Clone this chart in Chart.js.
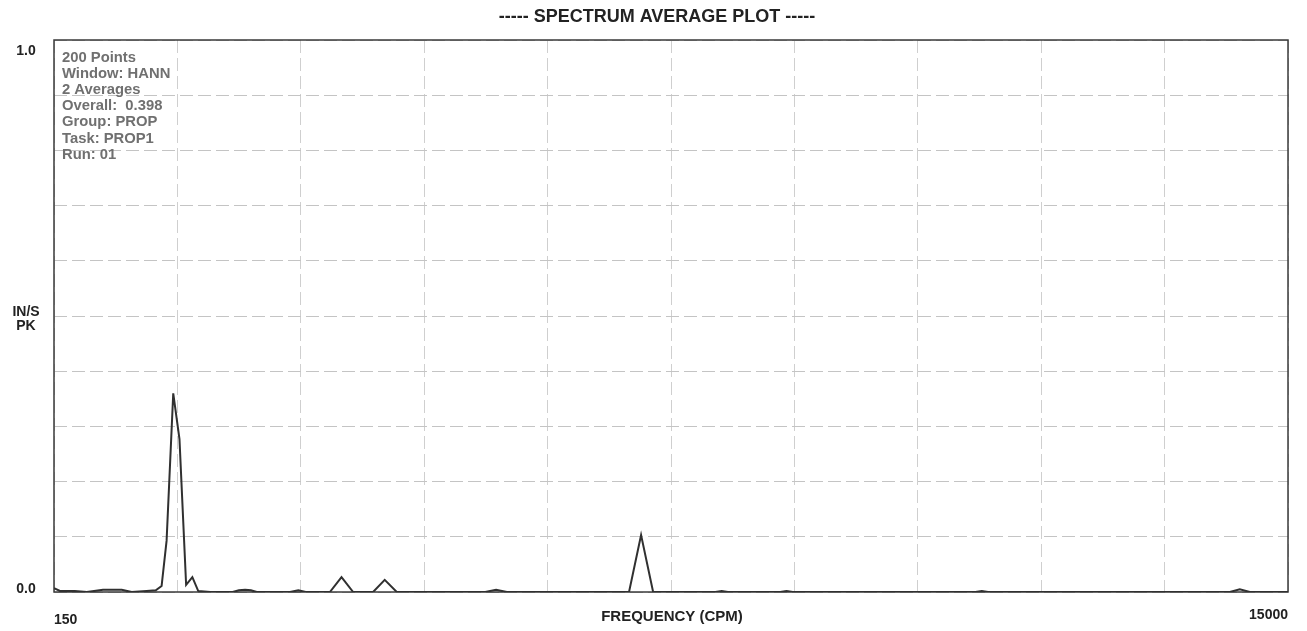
<!DOCTYPE html>
<html lang="en">
<head>
  <meta charset="UTF-8">
  <title>Spectrum Average Plot</title>
  <script src="https://cdn.jsdelivr.net/npm/chart.js"></script>
  <style>
    html, body { margin: 0; padding: 0; background: #ffffff; }
    #wrap { width: 1307px; height: 631px; }
  </style>
</head>
<body>
  <div id="wrap"><canvas id="spectrum" width="1307" height="631"></canvas></div>

  <script>
    // spectrum points (frequency in CPM, amplitude in IN/S PK)
    const freqCpm = [150, 222, 400, 545, 740, 965, 1085, 1265, 1375, 1445, 1505, 1585, 1660, 1740, 1815, 1885,
      2030, 2300, 2375, 2450, 2520, 2590, 2990, 3090, 3180, 3470, 3610, 3750, 3990, 4130, 4275,
      5340, 5470, 5600, 7070, 7215, 7360, 8110, 8185, 8260, 8890, 8965, 9040, 11240, 11315, 11390,
      14300, 14420, 14540, 15000];
    const ampInS = [0.007, 0.002, 0.002, 0.0, 0.004, 0.004, 0.0, 0.002, 0.003, 0.011, 0.093, 0.36, 0.277, 0.013, 0.027, 0.002,
      0.0, 0.0, 0.003, 0.004, 0.003, 0.0, 0.0, 0.003, 0.0, 0.0, 0.027, 0.0, 0.0, 0.022, 0.0,
      0.0, 0.004, 0.0, 0.0, 0.103, 0.0, 0.0, 0.002, 0.0, 0.0, 0.002, 0.0, 0.0, 0.002, 0.0,
      0.0, 0.005, 0.0, 0.0];

    // grid divisions (10 on each axis)
    const xGrid = [150, 1635, 3120, 4605, 6090, 7575, 9060, 10545, 12030, 13515, 15000];
    const yGrid = [0, 0.1, 0.2, 0.3, 0.4, 0.5, 0.6, 0.7, 0.8, 0.9, 1.0];

    const titleText = '----- SPECTRUM AVERAGE PLOT -----';
    const xLabels = ['150', '15000'];
    const yLabels = ['1.0', '0.0'];
    const yUnits = ['IN/S', 'PK'];
    const xTitle = 'FREQUENCY (CPM)';
    const infoLines = ['200 Points', 'Window: HANN', '2 Averages', 'Overall:  0.398', 'Group: PROP', 'Task: PROP1', 'Run: 01'];

    const FONT = "'Liberation Sans', Arial, sans-serif";

    const points = freqCpm.map((f, i) => ({ x: f, y: ampInS[i] }));

    // frame + all the printed text
    const plotText = {
      id: 'plotText',
      beforeDatasetsDraw(chart) {
        const { ctx, chartArea: a } = chart;
        ctx.save();
        ctx.strokeStyle = '#3a3a3a';
        ctx.lineWidth = 1.5;
        ctx.strokeRect(a.left, a.top, a.right - a.left, a.bottom - a.top);
        ctx.restore();
      },
      afterDraw(chart) {
        const { ctx, chartArea: a } = chart;
        ctx.save();
        ctx.fillStyle = '#222';
        ctx.textBaseline = 'middle';

        ctx.font = 'bold 18px ' + FONT;
        ctx.textAlign = 'center';
        ctx.fillText(titleText, 657, 17);

        // y axis end labels and units
        ctx.font = 'bold 14px ' + FONT;
        ctx.fillText(yLabels[0], 26, 51);
        ctx.fillText(yLabels[1], 26, 589);
        ctx.fillText(yUnits[0], 26, 312);
        ctx.fillText(yUnits[1], 26, 326);

        // x axis labels
        ctx.textAlign = 'left';
        ctx.fillText(xLabels[0], a.left, 620);
        ctx.textAlign = 'right';
        ctx.fillText(xLabels[1], a.right, 615);
        ctx.textAlign = 'center';
        ctx.font = 'bold 15px ' + FONT;
        ctx.fillText(xTitle, 672, 617);

        // info block in upper left corner
        ctx.fillStyle = '#707070';
        ctx.font = 'bold 14.8px ' + FONT;
        ctx.textAlign = 'left';
        infoLines.forEach((line, i) => ctx.fillText(line, 62, 58 + i * 16.1));
        ctx.restore();
      }
    };

    new Chart(document.getElementById('spectrum'), {
      type: 'line',
      data: {
        datasets: [{
          data: points,
          borderColor: '#303030',
          borderWidth: 2,
          pointRadius: 0,
          tension: 0,
          fill: false
        }]
      },
      options: {
        responsive: false,
        animation: false,
        layout: { padding: { left: 54, top: 40, right: 19, bottom: 39 } },
        plugins: { legend: { display: false }, tooltip: { enabled: false } },
        scales: {
          x: {
            type: 'linear',
            min: 150,
            max: 15000,
            afterBuildTicks: (scale) => { scale.ticks = xGrid.map(v => ({ value: v })); },
            ticks: { display: false },
            grid: { color: '#cfcfcf', lineWidth: 1, drawTicks: false },
            border: { display: false, dash: [13, 5] }
          },
          y: {
            min: 0,
            max: 1,
            afterBuildTicks: (scale) => { scale.ticks = yGrid.map(v => ({ value: v })); },
            ticks: { display: false },
            grid: { color: '#c4c4c4', lineWidth: 1, drawTicks: false },
            border: { display: false, dash: [13, 5] }
          }
        }
      },
      plugins: [plotText]
    });
  </script>
</body>
</html>
